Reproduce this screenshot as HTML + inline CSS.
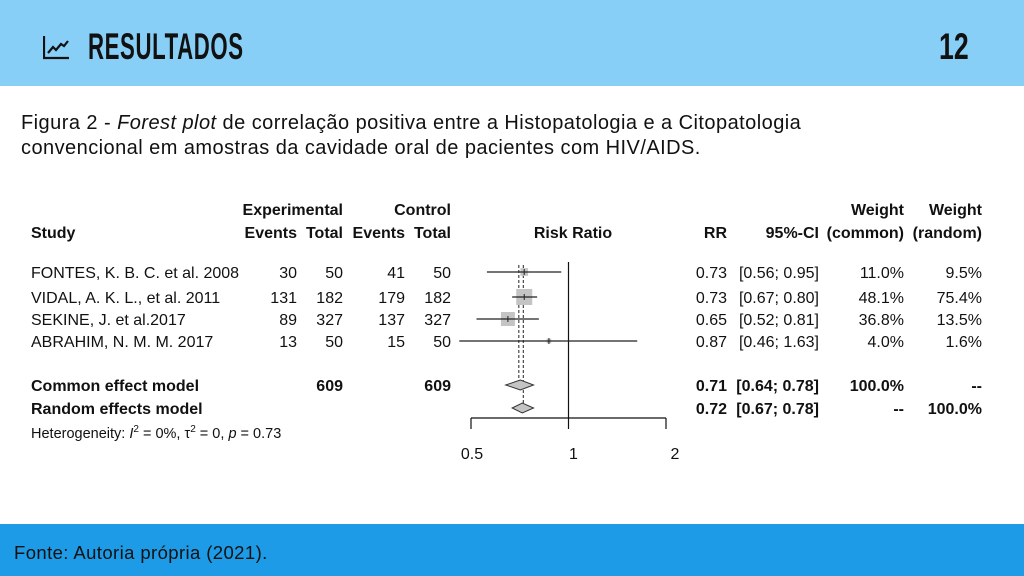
<!DOCTYPE html>
<html><head><meta charset="utf-8"><style>
body{margin:0;width:1024px;height:576px;position:relative;background:#fff;overflow:hidden;font-family:"Liberation Sans",Arial,sans-serif}
#hdr{position:absolute;left:0;top:0;width:1024px;height:86px;background:#88cff7}
#title{position:absolute;left:88px;top:26px;font-family:"Liberation Sans Narrow","Liberation Sans",sans-serif;font-weight:bold;font-size:37px;color:#111;transform:scaleX(0.6);transform-origin:left;letter-spacing:1px}
#num{position:absolute;left:939px;top:26px;font-family:"Liberation Sans Narrow","Liberation Sans",sans-serif;font-weight:bold;font-size:37px;color:#111;transform:scaleX(0.72);transform-origin:left}
#cap{position:absolute;left:21px;top:111px;font-size:20px;line-height:25px;letter-spacing:0.45px;color:#111;white-space:nowrap}
#foot{position:absolute;left:0;top:524px;width:1024px;height:52px;background:#1e9be6}
#foottxt{position:absolute;left:14px;top:542px;font-size:18.5px;letter-spacing:0.4px;color:#111}
svg text{font-family:"Liberation Sans",Arial,sans-serif;fill:#111}
</style></head><body>
<div id="hdr"></div>
<svg style="position:absolute;left:43px;top:34px" width="28" height="26"><path d="M1 2V24H26" stroke="#111" stroke-width="2.2" fill="none"/><path d="M5 19L10 13L13 16L18 10L21 12L25 7" stroke="#111" stroke-width="2.2" fill="none"/></svg>
<div id="title">RESULTADOS</div>
<div id="num">12</div>
<div id="cap">Figura 2 - <i>Forest plot</i> de correlação positiva entre a Histopatologia e a Citopatologia<br>convencional em amostras da cavidade oral de pacientes com HIV/AIDS.</div>
<svg id="fp" width="1024" height="576" style="position:absolute;left:0;top:0"></svg>
<div id="foot"></div>
<div id="foottxt">Fonte: Autoria própria (2021).</div>
<script>
const studies=["FONTES, K. B. C. et al. 2008","VIDAL, A. K. L., et al. 2011","SEKINE, J. et al.2017","ABRAHIM, N. M. M. 2017"];
const expEvents=[30,131,89,13];
const expTotal=[50,182,327,50];
const ctlEvents=[41,179,137,15];
const ctlTotal=[50,182,327,50];
const rr=[0.73,0.73,0.65,0.87];
const lower=[0.56,0.67,0.52,0.46];
const upper=[0.95,0.80,0.81,1.63];
const wCommon=[11.0,48.1,36.8,4.0];
const wRandom=[9.5,75.4,13.5,1.6];
const pooledLabels=["Common effect model","Random effects model"];
const pooledRR=[0.71,0.72];
const pooledLo=[0.64,0.67];
const pooledHi=[0.78,0.78];
const ticks=[0.5,1,2];
const svg=document.getElementById('fp');
const NS='http://www.w3.org/2000/svg';
const x=v=>471+97.5*Math.log2(v/0.5);
const rowY=[272,297,319,341];
const poolY=[385,408];
function el(t,a,p){const e=document.createElementNS(NS,t);for(const k in a)e.setAttribute(k,a[k]);(p||svg).appendChild(e);return e;}
function txt(s,xx,yy,anchor,bold,name,size){const e=el('text',{x:xx,y:yy,'text-anchor':anchor||'start','font-size':size||16,'font-weight':bold?'bold':'normal'});e.textContent=s;


return e;}
txt('Experimental',343,215,'end',1,'header-experimental');
txt('Control',451,215,'end',1,'header-control');
txt('Study',31,238,'start',1,'header-study');
txt('Events',297,238,'end',1,'header-events');
txt('Total',343,238,'end',1,'header-total');
txt('Events',405,238,'end',1,'header-events');
txt('Total',451,238,'end',1,'header-total');
txt('Risk Ratio',573,238,'middle',1,'header-risk-ratio');
txt('RR',727,238,'end',1,'header-rr');
txt('95%-CI',819,238,'end',1,'header-ci');
txt('Weight',904,215,'end',1,'header-weight');
txt('(common)',904,238,'end',1,'header-weight-common');
txt('Weight',982,215,'end',1,'header-weight');
txt('(random)',982,238,'end',1,'header-weight-random');
const ay=418;
el('line',{x1:x(1),y1:262,x2:x(1),y2:ay,stroke:'#111','stroke-width':1.2});
el('line',{x1:x(0.5),y1:ay,x2:x(2),y2:ay,stroke:'#111','stroke-width':1.2});
ticks.forEach((t,i)=>{const l=el('line',{x1:x(t),y1:ay,x2:x(t),y2:ay+11,stroke:'#111','stroke-width':1.2});


txt(String(t),x(t)+1+4*i,459,'middle',0,'axis-tick-label');});
pooledRR.forEach((v,i)=>{const l=el('line',{x1:x(v)+(i?1:-1.5),y1:265,x2:x(v)+(i?1:-1.5),y2:poolY[i]-4,stroke:'#222','stroke-width':1,'stroke-dasharray':'3,2'});

});
studies.forEach((s,i)=>{const y=rowY[i];
txt(s,31,y+6,'start',0,'study-name');
txt(String(expEvents[i]),297,y+6,'end',0,'exp-events');
txt(String(expTotal[i]),343,y+6,'end',0,'exp-total');
txt(String(ctlEvents[i]),405,y+6,'end',0,'ctl-events');
txt(String(ctlTotal[i]),451,y+6,'end',0,'ctl-total');
const sz=16*Math.sqrt(wCommon[i]/48.1);
const b=el('rect',{x:x(rr[i])-sz/2,y:y-sz/2,width:sz,height:sz,fill:'#c4c4c4'});


const l=el('line',{x1:x(lower[i]),y1:y,x2:x(upper[i]),y2:y,stroke:'#222','stroke-width':1.2});


el('line',{x1:x(rr[i]),y1:y-3,x2:x(rr[i]),y2:y+3,stroke:'#222','stroke-width':1});
txt(rr[i].toFixed(2),727,y+6,'end',0,'study-rr');
txt('['+lower[i].toFixed(2)+'; '+upper[i].toFixed(2)+']',819,y+6,'end',0,'study-ci-text');
txt(wCommon[i].toFixed(1)+'%',904,y+6,'end',0,'weight-common');
txt(wRandom[i].toFixed(1)+'%',982,y+6,'end',0,'weight-random');});
pooledLabels.forEach((s,i)=>{const y=poolY[i];
txt(s,31,y+6,'start',1,'pooled-label');
const d=el('polygon',{points:`${x(pooledLo[i])},${y} ${x(pooledRR[i])},${y-5} ${x(pooledHi[i])},${y} ${x(pooledRR[i])},${y+5}`,fill:'#c4c4c4',stroke:'#333','stroke-width':1});


txt(pooledRR[i].toFixed(2),727,y+6,'end',1,'pooled-rr');
txt('['+pooledLo[i].toFixed(2)+'; '+pooledHi[i].toFixed(2)+']',819,y+6,'end',1,'pooled-ci');
txt(i==0?'100.0%':'--',904,y+6,'end',1,'pooled-weight-common');
txt(i==1?'100.0%':'--',982,y+6,'end',1,'pooled-weight-random');});
txt('609',343,391,'end',1,'exp-total-sum');
txt('609',451,391,'end',1,'ctl-total-sum');
const h=el('text',{x:31,y:438,'font-size':14.5});


h.innerHTML='Heterogeneity: <tspan font-style="italic">I</tspan><tspan dy="-6" font-size="10">2</tspan><tspan dy="6"> = 0%, τ</tspan><tspan dy="-6" font-size="10">2</tspan><tspan dy="6"> = 0, </tspan><tspan font-style="italic">p</tspan> = 0.73';
</script>
</body></html>
